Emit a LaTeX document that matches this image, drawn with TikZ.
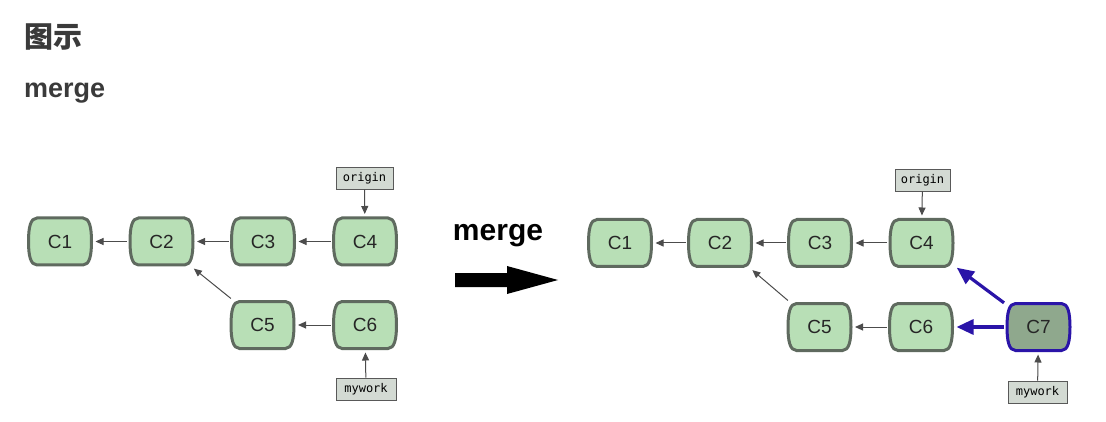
\documentclass[tikz,border=0pt]{standalone}
\usepackage{fontspec}
\setmainfont{Liberation Sans}
\newfontfamily\cjkf{Noto Sans CJK SC}
\newfontfamily\monof{DejaVu Sans Mono}
\usetikzlibrary{arrows.meta}
\definecolor{cfill}{HTML}{B8DFB6}
\definecolor{cborder}{HTML}{5F6A5F}
\definecolor{mfill}{HTML}{8FA88D}
\definecolor{mblue}{HTML}{2A14A8}
\definecolor{lfill}{HTML}{D3DAD3}
\definecolor{titlec}{HTML}{3A3A3A}
\tikzset{
  commit/.pic={
    \path[pic actions] (-23,-23.5) -- (23,-23.5)
      .. controls (29.5,-23.5) and (31.5,-14) .. (31.5,0)
      .. controls (31.5,14) and (29.5,23.5) .. (23,23.5)
      -- (-23,23.5)
      .. controls (-29.5,23.5) and (-31.5,14) .. (-31.5,0)
      .. controls (-31.5,-14) and (-29.5,-23.5) .. (-23,-23.5) -- cycle;
    \node[commitnode] (-n) at (0,0) {#1};
  },
  cpic/.style={draw=cborder, fill=cfill, line width=3pt},
  mpic/.style={draw=mblue, fill=mfill, line width=3pt},
  commitnode/.style={rectangle, minimum width=66pt, minimum height=50pt, inner sep=0pt,
    font=\fontsize{19}{19}\selectfont, text=black!85},
  lbl/.style={draw=black!65, fill=lfill, line width=0.8pt, minimum width=57pt, minimum height=22pt,
    inner sep=0pt, font=\monof\fontsize{12}{12}\selectfont},
  conn/.style={draw=black!70, line width=1pt, -{Triangle[length=8pt,width=7pt]}, shorten >=1pt},
  bconn/.style={draw=mblue, line width=3.2pt, -{Triangle[length=17pt,width=15pt]}, shorten >=1pt},
}
\begin{document}
\begin{tikzpicture}[x=1pt,y=-1pt]
\useasboundingbox[fill=white] (0,0) rectangle (1106,422);
% headings
\node[anchor=west, inner sep=0pt, text=titlec, font=\cjkf\bfseries\fontsize{29}{29}\selectfont] (title) at (24,37) {图示};
\node[anchor=west, inner sep=0pt, text=titlec, font=\bfseries\fontsize{27}{27}\selectfont] (sub) at (24,93) {merge};
% left diagram
\pic[cpic] (c1) at (60,241.5) {commit=C1};
\pic[cpic] (c2) at (161.5,241.5) {commit=C2};
\pic[cpic] (c3) at (263,241.5) {commit=C3};
\pic[cpic] (c4) at (365,241.5) {commit=C4};
\pic[cpic] (c5) at (262.5,325) {commit=C5};
\pic[cpic] (c6) at (365,325) {commit=C6};
\node[lbl] (o1) at (364.5,178) {origin};
\node[lbl, minimum width=60pt] (w1) at (366,389) {mywork};
\draw[conn] (c2-n) -- (c1-n);
\draw[conn] (c3-n) -- (c2-n);
\draw[conn] (c4-n) -- (c3-n);
\draw[conn] (c6-n) -- (c5-n);
\draw[conn] (c5-n.140) -- (c2-n.-40);
\draw[conn] (o1) -- (c4-n);
\draw[conn] (w1) -- (c6-n);
% middle
\node[inner sep=0pt, font=\bfseries\fontsize{30}{30}\selectfont] (mlabel) at (498,236) {merge};
\fill[black] (455,273) -- (507,273) -- (507,266) -- (558,280) -- (507,294) -- (507,287) -- (455,287) -- cycle;
% right diagram
\pic[cpic] (d1) at (620,243) {commit=C1};
\pic[cpic] (d2) at (720,243) {commit=C2};
\pic[cpic] (d3) at (820,243) {commit=C3};
\pic[cpic] (d4) at (921.5,243) {commit=C4};
\pic[cpic] (d5) at (819.5,327) {commit=C5};
\pic[cpic] (d6) at (921,327) {commit=C6};
\pic[mpic] (d7) at (1038.5,327) {commit=C7};
\node[lbl, minimum width=55pt] (o2) at (922.5,180) {origin};
\node[lbl, minimum width=59pt] (w2) at (1037.5,392) {mywork};
\draw[conn] (d2-n) -- (d1-n);
\draw[conn] (d3-n) -- (d2-n);
\draw[conn] (d4-n) -- (d3-n);
\draw[conn] (d6-n) -- (d5-n);
\draw[conn] (d5-n.140) -- (d2-n.-40);
\draw[conn] (o2) -- (d4-n);
\draw[conn] (w2) -- (d7-n);
\draw[bconn] (d7-n) -- (d6-n);
\draw[bconn] (d7-n.145) -- (d4-n.-35);
\end{tikzpicture}
\end{document}
